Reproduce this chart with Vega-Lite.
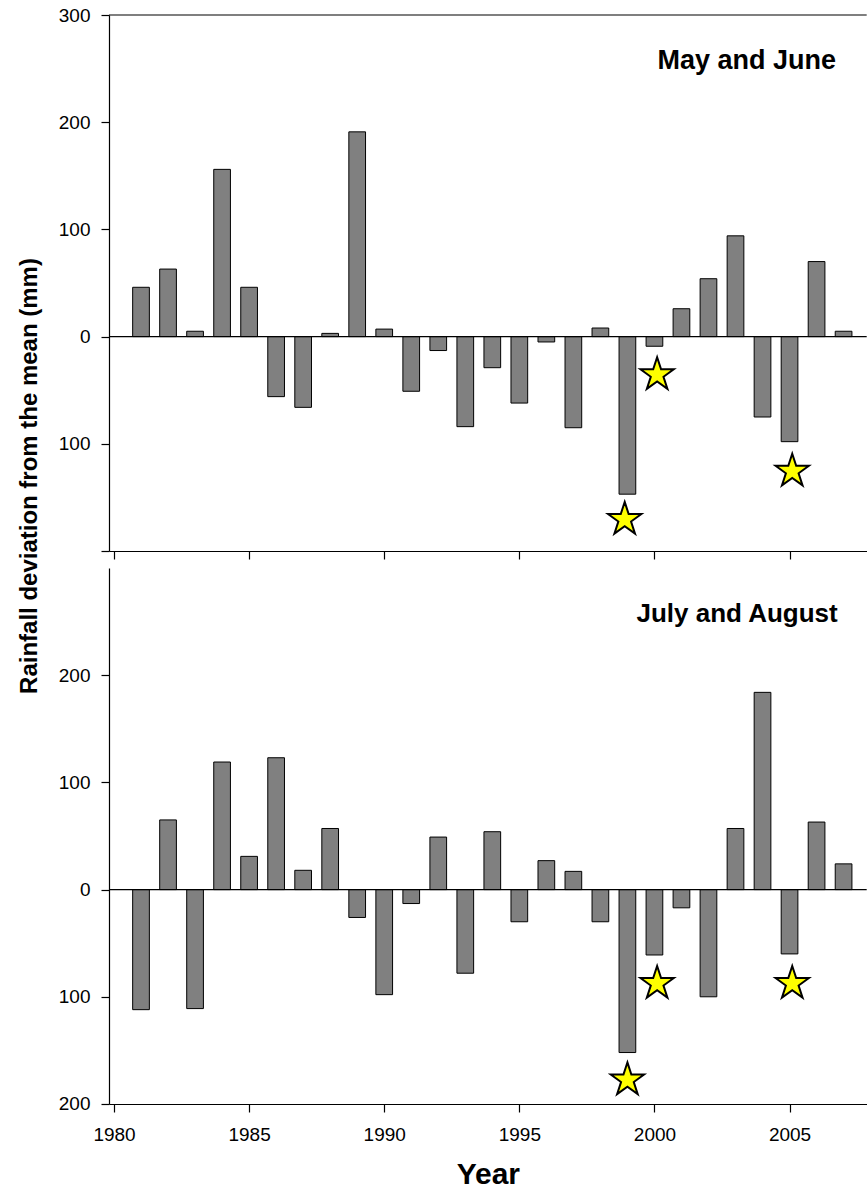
{
  "$schema": "https://vega.github.io/schema/vega-lite/v6.json",
  "padding": {"left": 18, "top": 6, "right": 0, "bottom": 0},
  "spacing": 8,
  "title": {
    "text": "Rainfall deviation from the mean (mm)",
    "orient": "left",
    "anchor": "middle",
    "fontSize": 24,
    "fontWeight": "bold",
    "font": "Liberation Sans",
    "color": "black",
    "offset": 16,
    "dx": 122
  },
  "config": {
    "view": {"stroke": null},
    "font": "Liberation Sans",
    "axis": {
      "grid": false,
      "domainColor": "black",
      "domainWidth": 1.2,
      "tickColor": "black",
      "tickWidth": 1.2,
      "tickSize": 8,
      "labelColor": "black",
      "labelFont": "Liberation Sans",
      "labelFontSize": 19,
      "titleColor": "black",
      "titleFont": "Liberation Sans"
    }
  },
  "datasets": {
    "mj": [
      {"year": 1981, "dev": 46}, {"year": 1982, "dev": 63}, {"year": 1983, "dev": 5},
      {"year": 1984, "dev": 156}, {"year": 1985, "dev": 46}, {"year": 1986, "dev": -56},
      {"year": 1987, "dev": -66}, {"year": 1988, "dev": 3}, {"year": 1989, "dev": 191},
      {"year": 1990, "dev": 7}, {"year": 1991, "dev": -51}, {"year": 1992, "dev": -13},
      {"year": 1993, "dev": -84}, {"year": 1994, "dev": -29}, {"year": 1995, "dev": -62},
      {"year": 1996, "dev": -5}, {"year": 1997, "dev": -85}, {"year": 1998, "dev": 8},
      {"year": 1999, "dev": -147}, {"year": 2000, "dev": -9}, {"year": 2001, "dev": 26},
      {"year": 2002, "dev": 54}, {"year": 2003, "dev": 94}, {"year": 2004, "dev": -75},
      {"year": 2005, "dev": -98}, {"year": 2006, "dev": 70}, {"year": 2007, "dev": 5}
    ],
    "ja": [
      {"year": 1981, "dev": -112}, {"year": 1982, "dev": 65}, {"year": 1983, "dev": -111},
      {"year": 1984, "dev": 119}, {"year": 1985, "dev": 31}, {"year": 1986, "dev": 123},
      {"year": 1987, "dev": 18}, {"year": 1988, "dev": 57}, {"year": 1989, "dev": -26},
      {"year": 1990, "dev": -98}, {"year": 1991, "dev": -13}, {"year": 1992, "dev": 49},
      {"year": 1993, "dev": -78}, {"year": 1994, "dev": 54}, {"year": 1995, "dev": -30},
      {"year": 1996, "dev": 27}, {"year": 1997, "dev": 17}, {"year": 1998, "dev": -30},
      {"year": 1999, "dev": -152}, {"year": 2000, "dev": -61}, {"year": 2001, "dev": -17},
      {"year": 2002, "dev": -100}, {"year": 2003, "dev": 57}, {"year": 2004, "dev": 184},
      {"year": 2005, "dev": -60}, {"year": 2006, "dev": 63}, {"year": 2007, "dev": 24}
    ],
    "mjStars": [
      {"year": 1998.9, "dev": -169}, {"year": 2000.1, "dev": -34}, {"year": 2005.1, "dev": -124}
    ],
    "jaStars": [
      {"year": 1999.0, "dev": -176}, {"year": 2000.1, "dev": -86}, {"year": 2005.1, "dev": -86}
    ],
    "mjLabel": [{"year": 2006.72, "dev": 250, "label": "May and June"}],
    "jaLabel": [{"year": 2006.78, "dev": 250, "label": "July and August"}]
  },
  "vconcat": [
    {
      "width": 757.7,
      "height": 536,
      "layer": [
        {
          "data": {"name": "mj"},
          "mark": {"type": "bar", "width": 16.7, "fill": "#808080", "stroke": "black", "strokeWidth": 1},
          "encoding": {
            "x": {
              "field": "year", "type": "quantitative",
              "scale": {"domain": [1980, 2007.67], "nice": false, "zero": false},
              "axis": {"values": [1980, 1985, 1990, 1995, 2000, 2005], "labels": false, "title": null}
            },
            "y": {
              "field": "dev", "type": "quantitative",
              "scale": {"domain": [-200, 300], "nice": false},
              "axis": {
                "values": [-200, -100, 0, 100, 200, 300],
                "labelExpr": "datum.value == -200 ? '' : format(abs(datum.value), 'd')",
                "labelPadding": 11,
                "title": null
              }
            }
          }
        },
        {
          "data": {"name": "mjLabel"},
          "mark": {"type": "rule", "color": "black", "strokeWidth": 1.2},
          "encoding": {"y": {"datum": 0}}
        },
        {
          "data": {"name": "mjLabel"},
          "mark": {"type": "rule", "color": "black", "strokeWidth": 1.2},
          "encoding": {"y": {"datum": 300}}
        },
        {
          "data": {"name": "mjStars"},
          "mark": {"type": "point", "shape": "M0,-0.905L0.225,-0.214L0.951,-0.214L0.363,0.214L0.588,0.905L0,0.478L-0.588,0.905L-0.363,0.214L-0.951,-0.214L-0.225,-0.214Z", "filled": true, "fill": "#FFFF00", "stroke": "black", "strokeWidth": 2, "size": 1225, "opacity": 1},
          "encoding": {
            "x": {"field": "year", "type": "quantitative"},
            "y": {"field": "dev", "type": "quantitative"}
          }
        },
        {
          "data": {"name": "mjLabel"},
          "mark": {"type": "text", "align": "right", "baseline": "alphabetic", "fontSize": 27, "fontWeight": "bold", "font": "Liberation Sans", "color": "black"},
          "encoding": {
            "x": {"field": "year", "type": "quantitative"},
            "y": {"field": "dev", "type": "quantitative"},
            "text": {"field": "label"}
          }
        }
      ]
    },
    {
      "width": 757.7,
      "height": 536,
      "layer": [
        {
          "data": {"name": "ja"},
          "mark": {"type": "bar", "width": 16.7, "fill": "#808080", "stroke": "black", "strokeWidth": 1},
          "encoding": {
            "x": {
              "field": "year", "type": "quantitative",
              "scale": {"domain": [1980, 2007.67], "nice": false, "zero": false},
              "axis": {
                "values": [1980, 1985, 1990, 1995, 2000, 2005],
                "format": "d",
                "labelPadding": 14,
                "title": "Year",
                "titleFontSize": 30,
                "titleFontWeight": "bold",
                "titlePadding": 15
              }
            },
            "y": {
              "field": "dev", "type": "quantitative",
              "scale": {"domain": [-200, 300], "nice": false},
              "axis": {
                "values": [-200, -100, 0, 100, 200],
                "labelExpr": "format(abs(datum.value), 'd')",
                "labelPadding": 11,
                "title": null
              }
            }
          }
        },
        {
          "data": {"name": "jaLabel"},
          "mark": {"type": "rule", "color": "black", "strokeWidth": 1.2},
          "encoding": {"y": {"datum": 0}}
        },
        {
          "data": {"name": "jaStars"},
          "mark": {"type": "point", "shape": "M0,-0.905L0.225,-0.214L0.951,-0.214L0.363,0.214L0.588,0.905L0,0.478L-0.588,0.905L-0.363,0.214L-0.951,-0.214L-0.225,-0.214Z", "filled": true, "fill": "#FFFF00", "stroke": "black", "strokeWidth": 2, "size": 1225, "opacity": 1},
          "encoding": {
            "x": {"field": "year", "type": "quantitative"},
            "y": {"field": "dev", "type": "quantitative"}
          }
        },
        {
          "data": {"name": "jaLabel"},
          "mark": {"type": "text", "align": "right", "baseline": "alphabetic", "fontSize": 26, "fontWeight": "bold", "font": "Liberation Sans", "color": "black"},
          "encoding": {
            "x": {"field": "year", "type": "quantitative"},
            "y": {"field": "dev", "type": "quantitative"},
            "text": {"field": "label"}
          }
        }
      ]
    }
  ]
}
